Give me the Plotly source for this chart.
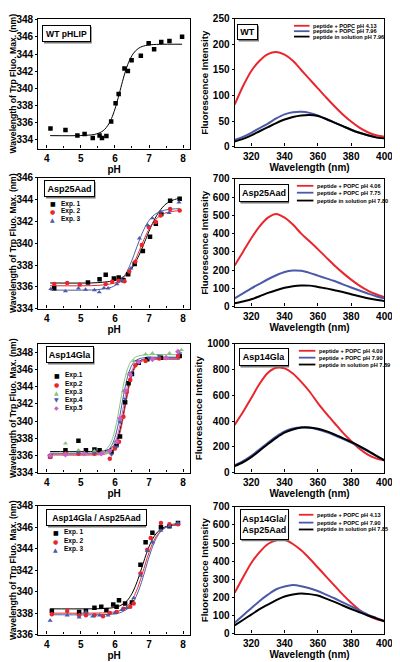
import plotly.graph_objects as go

FONT = "Liberation Sans"
RED = "#e8262c"
BLUE = "#4b5aa8"
BLACK = "#000000"
GREEN = "#86c67c"
MAGENTA = "#c564c5"

# ---------------- pH titration data ----------------
wt_ph = [4.11, 4.55, 4.90, 5.11, 5.35, 5.55, 5.62, 5.75, 5.89, 6.02, 6.11, 6.28, 6.38, 6.49, 6.76, 6.99, 7.15, 7.36, 7.60, 7.97]
wt_lam = [335.34, 335.15, 334.53, 334.69, 334.23, 334.53, 334.23, 334.46, 336.14, 338.27, 339.34, 342.32, 342.02, 343.27, 343.81, 345.26, 344.57, 345.41, 345.53, 346.02]
wt_fit_ph = [4.1, 5.0, 5.4, 5.6, 5.7, 5.8, 5.9, 6.0, 6.1, 6.2, 6.3, 6.4, 6.5, 6.6, 6.7, 6.8, 7.0, 7.3, 7.97]
wt_fit_lam = [334.5, 334.51, 334.64, 334.93, 335.23, 335.73, 336.49, 337.59, 338.97, 340.48, 341.89, 343.02, 343.83, 344.36, 344.69, 344.89, 345.07, 345.14, 345.15]

# Asp25Aad
a25_e1_ph = [4.22, 5.21, 5.55, 5.73, 5.97, 6.11, 6.25, 6.39, 6.58, 6.82, 7.03, 7.20, 7.36, 7.62, 7.90]
a25_e1_lam = [335.86, 336.40, 336.70, 337.10, 336.76, 336.85, 336.60, 337.15, 338.10, 339.30, 340.60, 341.80, 342.70, 343.90, 344.10]
a25_e2_ph = [4.22, 4.60, 4.97, 5.73, 5.92, 6.11, 6.28, 6.42, 6.60, 6.79, 6.99, 7.20, 7.34, 7.62, 7.90]
a25_e2_lam = [336.25, 336.34, 336.20, 336.25, 336.46, 336.55, 336.50, 337.40, 338.30, 339.85, 341.50, 341.96, 342.56, 343.16, 343.00]
a25_e3_ph = [4.12, 4.55, 4.93, 5.14, 5.40, 5.54, 5.68, 5.80, 6.06, 6.20, 6.47, 6.72, 6.96, 7.10, 7.34, 7.59, 7.88]
a25_e3_lam = [335.80, 335.60, 335.86, 335.74, 335.70, 335.50, 335.90, 335.86, 336.25, 336.60, 337.70, 340.46, 341.66, 342.30, 342.90, 342.80, 343.76]
a25_fit1_ph = [4.1, 5.5, 6.0, 6.2, 6.4, 6.5, 6.6, 6.7, 6.8, 6.9, 7.0, 7.1, 7.2, 7.3, 7.4, 7.5, 7.6, 7.75, 7.9]
a25_fit1_lam = [336.35, 336.38, 336.58, 336.83, 337.34, 337.72, 338.23, 338.85, 339.56, 340.33, 341.10, 341.80, 342.41, 342.92, 343.31, 343.62, 343.82, 344.02, 344.14]
a25_fit2_ph = [4.1, 5.5, 6.0, 6.2, 6.4, 6.5, 6.6, 6.7, 6.8, 6.9, 7.0, 7.1, 7.2, 7.3, 7.4, 7.5, 7.6, 7.75, 7.9]
a25_fit2_lam = [336.10, 336.13, 336.35, 336.67, 337.34, 337.84, 338.47, 339.20, 339.95, 340.68, 341.31, 341.81, 342.20, 342.47, 342.67, 342.80, 342.88, 342.96, 343.00]
a25_fit3_ph = [4.1, 5.5, 5.9, 6.1, 6.3, 6.4, 6.5, 6.6, 6.7, 6.8, 6.9, 7.0, 7.1, 7.2, 7.3, 7.5, 7.7, 7.9]
a25_fit3_lam = [335.70, 335.74, 335.96, 336.33, 337.10, 337.70, 338.44, 339.28, 340.13, 340.92, 341.58, 342.09, 342.46, 342.71, 342.89, 343.07, 343.15, 343.18]

# Asp14Gla
g14_e1_ph = [4.10, 4.55, 4.93, 5.15, 5.40, 5.55, 5.90, 6.05, 6.15, 6.30, 6.40, 6.50, 6.70, 6.95, 7.35, 7.90]
g14_e1_lam = [335.9, 336.6, 337.7, 336.6, 336.7, 336.6, 336.4, 337.2, 338.2, 342.2, 344.4, 345.5, 346.8, 347.2, 347.4, 347.6]
g14_e2_ph = [4.10, 4.55, 4.93, 5.40, 5.85, 6.00, 6.12, 6.25, 6.35, 6.45, 6.60, 6.90, 7.30, 7.85]
g14_e2_lam = [335.8, 336.2, 336.2, 336.2, 335.6, 336.8, 337.6, 340.5, 343.4, 344.8, 346.5, 347.0, 347.3, 347.6]
g14_e3_ph = [4.55, 4.93, 5.40, 5.80, 6.00, 6.15, 6.25, 6.40, 6.55, 6.90, 7.10, 7.60, 7.95]
g14_e3_lam = [337.4, 336.6, 336.5, 336.3, 337.5, 340.0, 343.5, 345.5, 347.0, 347.8, 347.9, 347.9, 348.3]
g14_e4_ph = [4.10, 4.93, 5.40, 5.90, 6.05, 6.15, 6.30, 6.45, 6.65, 7.00, 7.30, 7.90]
g14_e4_lam = [335.9, 336.3, 336.3, 336.1, 337.0, 339.9, 342.6, 345.6, 347.0, 347.4, 347.6, 347.9]
g14_e5_ph = [4.10, 4.55, 5.10, 5.60, 5.85, 6.05, 6.15, 6.30, 6.45, 6.70, 7.10, 7.50, 7.85]
g14_e5_lam = [336.0, 336.1, 336.2, 336.2, 336.5, 337.6, 340.3, 343.5, 345.4, 346.9, 347.2, 347.4, 348.1]
g14_fit1_ph = [4.1, 5.6, 5.8, 5.9, 6.0, 6.1, 6.2, 6.3, 6.4, 6.5, 6.6, 6.7, 6.8, 7.0, 7.9]
g14_fit1_lam = [336.45, 336.49, 336.65, 336.86, 337.34, 338.26, 339.82, 341.90, 343.98, 345.54, 346.46, 346.94, 347.15, 347.31, 347.35]
g14_fit2_ph = [4.1, 5.6, 5.8, 5.9, 6.0, 6.1, 6.2, 6.3, 6.4, 6.5, 6.6, 6.7, 6.8, 7.0, 7.9]
g14_fit2_lam = [336.05, 336.09, 336.25, 336.47, 336.96, 337.90, 339.50, 341.63, 343.75, 345.35, 346.29, 346.78, 347.00, 347.16, 347.20]
g14_fit3_ph = [4.1, 5.45, 5.65, 5.75, 5.85, 5.95, 6.05, 6.15, 6.25, 6.35, 6.45, 6.55, 6.65, 6.85, 7.9]
g14_fit3_lam = [336.30, 336.34, 336.51, 336.74, 337.24, 338.20, 339.84, 342.03, 344.21, 345.85, 346.81, 347.31, 347.54, 347.71, 347.75]
g14_fit4_ph = [4.1, 5.5, 5.7, 5.8, 5.9, 6.0, 6.1, 6.2, 6.3, 6.4, 6.5, 6.6, 6.7, 6.9, 7.9]
g14_fit4_lam = [336.20, 336.24, 336.40, 336.63, 337.12, 338.07, 339.68, 341.83, 343.97, 345.58, 346.53, 347.02, 347.25, 347.41, 347.45]
g14_fit5_ph = [4.1, 5.55, 5.75, 5.85, 5.95, 6.05, 6.15, 6.25, 6.35, 6.45, 6.55, 6.65, 6.75, 6.95, 7.9]
g14_fit5_lam = [336.15, 336.19, 336.35, 336.57, 337.06, 337.99, 339.58, 341.70, 343.82, 345.41, 346.34, 346.83, 347.05, 347.21, 347.25]

# Asp14Gla / Asp25Aad
dd_e1_ph = [4.15, 4.95, 5.15, 5.40, 5.60, 5.75, 5.95, 6.05, 6.12, 6.30, 6.50, 6.75, 6.90, 7.10, 7.35, 7.60, 7.85]
dd_e1_lam = [338.2, 338.1, 338.2, 338.5, 338.6, 338.3, 338.8, 338.6, 339.2, 338.9, 339.0, 342.5, 344.6, 345.5, 346.0, 346.1, 346.4]
dd_e2_ph = [4.15, 4.60, 4.95, 5.15, 5.40, 5.65, 5.85, 6.05, 6.25, 6.45, 6.55, 6.75, 6.95, 7.05, 7.35, 7.60, 7.85]
dd_e2_lam = [337.9, 338.2, 337.8, 337.8, 337.8, 337.7, 338.0, 338.1, 338.4, 338.6, 338.9, 341.7, 343.9, 345.0, 346.4, 346.3, 346.3]
dd_e3_ph = [4.10, 4.60, 4.95, 5.15, 5.35, 5.55, 5.80, 6.00, 6.20, 6.35, 6.55, 6.75, 6.95, 7.10, 7.35, 7.60, 7.85]
dd_e3_lam = [337.3, 337.8, 337.6, 338.1, 337.7, 337.8, 337.8, 338.0, 338.3, 338.5, 339.4, 341.5, 343.8, 344.6, 345.7, 346.1, 346.4]
dd_fit1_ph = [4.1, 5.8, 6.1, 6.3, 6.4, 6.5, 6.6, 6.7, 6.8, 6.9, 7.0, 7.1, 7.2, 7.3, 7.5, 7.9]
dd_fit1_lam = [338.40, 338.45, 338.62, 338.98, 339.32, 339.82, 340.51, 341.37, 342.35, 343.33, 344.19, 344.88, 345.38, 345.72, 346.08, 346.27]
dd_fit2_ph = [4.1, 5.85, 6.15, 6.35, 6.45, 6.55, 6.65, 6.75, 6.85, 6.95, 7.05, 7.15, 7.25, 7.35, 7.55, 7.9]
dd_fit2_lam = [338.00, 338.05, 338.23, 338.61, 338.96, 339.49, 340.22, 341.12, 342.15, 343.18, 344.08, 344.81, 345.34, 345.69, 346.07, 346.27]
dd_fit3_ph = [4.1, 5.9, 6.2, 6.4, 6.5, 6.6, 6.7, 6.8, 6.9, 7.0, 7.1, 7.2, 7.3, 7.4, 7.6, 7.9]
dd_fit3_lam = [337.85, 337.90, 338.09, 338.48, 338.85, 339.40, 340.15, 341.08, 342.15, 343.22, 344.15, 344.90, 345.44, 345.81, 346.21, 346.40]

# ---------------- emission spectra ----------------
wl = [310, 315, 320, 325, 330, 335, 340, 345, 350, 355, 360, 365, 370, 375, 380, 385, 390, 395, 400]
wt_red = [82, 118, 148, 168, 181, 185, 180, 168, 150, 132, 114, 96, 79, 63, 49, 37, 28, 22, 19]
wt_blue = [13, 19, 27, 36, 45, 55, 63, 67, 68, 66, 61, 54, 47, 40, 33, 27, 22, 18, 16]
wt_black = [10, 15, 22, 30, 38, 46, 53, 58, 61, 62, 60, 54, 47, 40, 33, 27, 22, 18, 16]
a25_red = [225, 300, 375, 440, 488, 508, 488, 450, 400, 358, 315, 270, 225, 185, 148, 115, 88, 68, 52]
a25_blue = [45, 72, 100, 125, 150, 172, 190, 198, 196, 185, 170, 155, 140, 122, 105, 88, 72, 57, 45]
a25_black = [18, 28, 40, 57, 75, 90, 103, 112, 116, 115, 108, 100, 90, 80, 68, 57, 46, 37, 30]
g14_red = [370, 470, 580, 690, 775, 815, 810, 770, 705, 630, 540, 460, 385, 310, 245, 185, 140, 110, 95]
g14_blue = [55, 88, 130, 180, 232, 280, 320, 342, 350, 348, 335, 315, 290, 262, 232, 200, 165, 130, 95]
g14_black = [50, 80, 120, 170, 222, 270, 310, 335, 350, 350, 340, 322, 297, 268, 238, 205, 170, 132, 95]
dd_red = [225, 310, 390, 450, 495, 515, 518, 495, 460, 415, 365, 315, 265, 215, 170, 130, 100, 80, 68]
dd_blue = [60, 100, 140, 180, 215, 245, 260, 268, 262, 250, 235, 215, 195, 172, 150, 127, 105, 87, 70]
dd_black = [45, 75, 105, 135, 160, 185, 205, 216, 222, 218, 210, 193, 175, 155, 136, 118, 100, 84, 68]

spec_legends = {
    2: ["peptide + POPC pH 4.13", "peptide + POPC pH 7.96", "peptide in solution pH 7.96"],
    4: ["peptide + POPC pH 4.06", "peptide + POPC pH 7.75", "peptide in solution pH 7.80"],
    6: ["peptide + POPC pH 4.09", "peptide + POPC pH 7.90", "peptide in solution pH 7.89"],
    8: ["peptide + POPC pH 4.13", "peptide + POPC pH 7.90", "peptide in solution pH 7.85"],
}

W, H = 400, 662
def px(x):
    return x / W
def py(y):
    return 1 - y / H

fig = go.Figure()

def add_pts(n, x, y, color, symbol, size=4.5):
    ax = "" if n == 1 else str(n)
    fig.add_trace(go.Scatter(x=x, y=y, mode="markers", xaxis="x" + ax, yaxis="y" + ax,
                             marker=dict(color=color, symbol=symbol, size=size, line=dict(width=0)),
                             showlegend=False))

def add_line(n, x, y, color, width=1.0):
    ax = "" if n == 1 else str(n)
    fig.add_trace(go.Scatter(x=x, y=y, mode="lines", xaxis="x" + ax, yaxis="y" + ax,
                             line=dict(color=color, width=width, shape="spline", smoothing=0.8),
                             showlegend=False))

# panel 1 WT
add_line(1, wt_fit_ph, wt_fit_lam, BLACK)
add_pts(1, wt_ph, wt_lam, BLACK, "square")
# panel 3 Asp25Aad
add_line(3, a25_fit1_ph, a25_fit1_lam, BLACK)
add_line(3, a25_fit2_ph, a25_fit2_lam, RED)
add_line(3, a25_fit3_ph, a25_fit3_lam, BLUE)
add_pts(3, a25_e1_ph, a25_e1_lam, BLACK, "square")
add_pts(3, a25_e2_ph, a25_e2_lam, RED, "circle")
add_pts(3, a25_e3_ph, a25_e3_lam, BLUE, "triangle-up")
# panel 5 Asp14Gla
add_line(5, g14_fit1_ph, g14_fit1_lam, BLACK)
add_line(5, g14_fit2_ph, g14_fit2_lam, RED)
add_line(5, g14_fit3_ph, g14_fit3_lam, GREEN)
add_line(5, g14_fit4_ph, g14_fit4_lam, BLUE)
add_line(5, g14_fit5_ph, g14_fit5_lam, MAGENTA)
add_pts(5, g14_e1_ph, g14_e1_lam, BLACK, "square")
add_pts(5, g14_e2_ph, g14_e2_lam, RED, "circle")
add_pts(5, g14_e3_ph, g14_e3_lam, GREEN, "triangle-up")
add_pts(5, g14_e4_ph, g14_e4_lam, BLUE, "triangle-down")
add_pts(5, g14_e5_ph, g14_e5_lam, MAGENTA, "diamond")
# panel 7 double
add_line(7, dd_fit1_ph, dd_fit1_lam, BLACK)
add_line(7, dd_fit2_ph, dd_fit2_lam, RED)
add_line(7, dd_fit3_ph, dd_fit3_lam, BLUE)
add_pts(7, dd_e1_ph, dd_e1_lam, BLACK, "square")
add_pts(7, dd_e2_ph, dd_e2_lam, RED, "circle")
add_pts(7, dd_e3_ph, dd_e3_lam, BLUE, "triangle-up")
# spectra
for n, (r, b, k) in {2: (wt_red, wt_blue, wt_black), 4: (a25_red, a25_blue, a25_black),
                     6: (g14_red, g14_blue, g14_black), 8: (dd_red, dd_blue, dd_black)}.items():
    add_line(n, wl, r, RED, 2)
    add_line(n, wl, b, BLUE, 2)
    add_line(n, wl, k, BLACK, 2)

# ---------------- axes ----------------
left_dom = [px(29), px(185)]
right_dom = [px(231), px(385)]
ydoms = {1: (5, 137), 2: (5, 135), 3: (167, 300), 4: (168, 298),
         5: (336, 467), 6: (336, 467), 7: (501, 632), 8: (502, 631)}
yranges = {1: [333, 348.1], 3: [334, 346], 5: [334, 349], 7: [336, 348],
           2: [0, 250], 4: [0, 700], 6: [0, 1000], 8: [0, 700]}
ydt = {1: 2, 3: 2, 5: 2, 7: 2, 2: 50, 4: 100, 6: 200, 8: 100}

tickfont = dict(family=FONT, size=10, color="black", weight="bold")
titlefont = dict(family=FONT, size=10, color="black", weight="bold")
layout = {}
for n in range(1, 9):
    s = "" if n == 1 else str(n)
    left = n % 2 == 1
    top, bot = ydoms[n]
    common = dict(showline=True, mirror=True, linecolor="black", linewidth=1.2, showgrid=False,
                  zeroline=False, tickwidth=1, tickcolor="black", tickfont=tickfont)
    if left:
        xa = dict(domain=left_dom, range=[3.75, 8.2], tick0=4, dtick=1, ticks="inside", ticklen=3,
                  title=dict(text="pH", font=titlefont, standoff=0),
                  minor=dict(ticks="inside", ticklen=2, dtick=0.5, tickcolor="black"), **common)
        ya = dict(domain=[py(bot), py(top)], range=yranges[n], dtick=ydt[n], tick0=0,
                  ticks="outside", ticklen=2,
                  title=dict(text="Wavelength of Trp Fluo. Max. (nm)",
                             font=dict(family=FONT, size=8.6, color="black", weight="bold"), standoff=2),
                  **common)
    else:
        xa = dict(domain=right_dom, range=[310, 400], tick0=320, dtick=20, ticks="inside", ticklen=3,
                  title=dict(text="Wavelength (nm)", font=titlefont, standoff=0), **common)
        ya = dict(domain=[py(bot), py(top)], range=yranges[n], dtick=ydt[n], tick0=0,
                  ticks="outside", ticklen=2,
                  title=dict(text="Fluorescence Intensity",
                             font=dict(family=FONT, size=9.6, color="black", weight="bold"), standoff=2),
                  **common)
    xa["anchor"] = "y" + s
    ya["anchor"] = "x" + s
    layout["xaxis" + s] = xa
    layout["yaxis" + s] = ya

annotations = []
shapes = []

def label_box(text, x0, y0, x1, y1, size=9):
    shapes.append(dict(type="rect", xref="paper", yref="paper", x0=px(x0 + 2), x1=px(x1 + 2),
                       y0=py(y1 + 2), y1=py(y0 + 2), fillcolor="#777", line=dict(width=0),
                       layer="above"))
    annotations.append(dict(xref="paper", yref="paper", x=px(x0), y=py(y0), xanchor="left",
                            yanchor="top", showarrow=False, borderwidth=1, borderpad=0,
                            width=x1 - x0 - 2, height=y1 - y0 - 2, align="center", valign="middle",
                            bgcolor="white", bordercolor="black",
                            font=dict(family=FONT, size=size, color="black"),
                            text="<b>" + text + "</b>"))

label_box("WT pHLIP", 33, 11, 82, 28, 8.6)
label_box("WT", 233, 10, 254, 26, 9)
label_box("Asp25Aad", 35, 169, 86, 186, 9)
label_box("Asp25Aad", 235, 173, 285, 191, 9)
label_box("Asp14Gla", 37, 338, 85, 355, 9)
label_box("Asp14Gla", 235, 340, 285, 358, 9)
label_box("Asp14Gla / Asp25Aad", 37, 504, 138, 521, 8.6)
label_box("Asp14Gla/<br>Asp25Aad", 236, 504, 285, 535, 9)

def exp_legend(entries, x, ys):
    for (name, color, glyph, gsize), y in zip(entries, ys):
        annotations.append(dict(xref="paper", yref="paper", x=px(x), y=py(y), xanchor="center",
                                yanchor="middle", showarrow=False, text=glyph,
                                font=dict(family="DejaVu Sans", size=gsize, color=color)))
        annotations.append(dict(xref="paper", yref="paper", x=px(x + 6), y=py(y), xanchor="left",
                                yanchor="middle", showarrow=False, text="<b>" + name + "</b>",
                                font=dict(family=FONT, size=6.5, color="black")))

exp_legend([("Exp. 1", BLACK, "■", 6), ("Exp. 2", RED, "●", 6), ("Exp. 3", BLUE, "▲", 6)],
           44, [193, 201, 209])
exp_legend([("Exp.1", BLACK, "■", 6), ("Exp.2", RED, "●", 6), ("Exp.3", GREEN, "▲", 6),
            ("Exp.4", BLUE, "▼", 6), ("Exp.5", MAGENTA, "◆", 6)],
           48, [368, 377, 385, 393, 401])
exp_legend([("Exp. 1", BLACK, "■", 6), ("Exp. 2", RED, "●", 6), ("Exp. 3", BLUE, "▲", 6)],
           47, [528, 537, 545])

def spec_legend(n, x0, x1, ys):
    for name, color, y in zip(spec_legends[n], [RED, BLUE, BLACK], ys):
        shapes.append(dict(type="line", xref="paper", yref="paper", x0=px(x0), x1=px(x1),
                           y0=py(y), y1=py(y), line=dict(color=color, width=1.8)))
        annotations.append(dict(xref="paper", yref="paper", x=px(x1 + 2), y=py(y), xanchor="left",
                                yanchor="middle", showarrow=False, text="<b>" + name + "</b>",
                                font=dict(family=FONT, size=5.6, color="black")))

spec_legend(2, 292, 308, [12, 17.5, 23])
spec_legend(4, 295, 312, [175, 182, 190])
spec_legend(6, 297, 314, [343, 350, 357])
spec_legend(8, 297, 312, [510, 518, 525])

fig.update_layout(width=W, height=H, margin=dict(l=0, r=0, t=0, b=0), paper_bgcolor="white",
                  plot_bgcolor="white", annotations=annotations, shapes=shapes,
                  font=dict(family=FONT, color="black"), **layout)
fig.write_html("out.html")
